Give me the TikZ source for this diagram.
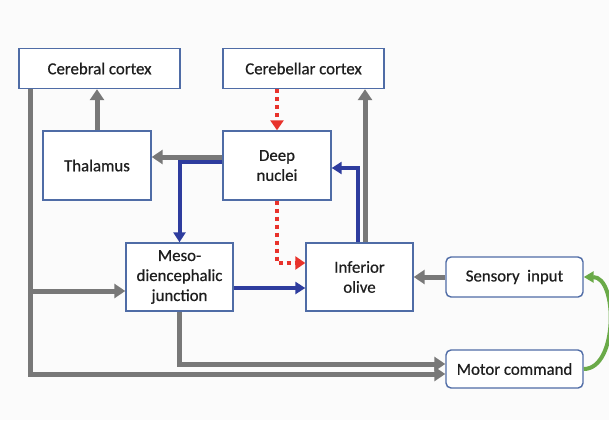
\documentclass[tikz,border=0pt]{standalone}
\usepackage{fontspec}
\setmainfont{Carlito}
\newfontfamily\boxfont{Carlito}[FakeBold=0.6]
\usetikzlibrary{arrows.meta}
\definecolor{boxline}{HTML}{4F6CA6}
\definecolor{greyarrow}{HTML}{787878}
\definecolor{bluearrow}{HTML}{2E3C9E}
\definecolor{redarrow}{HTML}{E8322B}
\definecolor{greenarrow}{HTML}{6AAA48}
\definecolor{paper}{HTML}{FBFBFB}
\definecolor{ink}{HTML}{1E1E1E}
\tikzset{
  block/.style={draw=boxline, line width=1.4pt, fill=white, inner sep=0pt,
    align=center, text=ink, font=\boxfont\fontsize{16.8}{20}\selectfont},
  roundblock/.style={block, rounded corners=5pt},
  greyconn/.style={draw=greyarrow, line width=5pt,
    -{Triangle[length=11pt,width=14pt]}},
  blueconn/.style={draw=bluearrow, line width=4pt,
    -{Triangle[length=10pt,width=12pt]}},
  redconn/.style={draw=redarrow, line width=4pt, dash pattern=on 4pt off 4pt,
    -{Triangle[length=10pt,width=13pt]}},
  greenconn/.style={draw=greenarrow, line width=4pt,
    -{Triangle[length=10pt,width=11pt]}},
}
\begin{document}
\begin{tikzpicture}[x=1pt,y=-1pt]
\useasboundingbox[fill=paper] (0,0) rectangle (609,420);

% boxes
\node[block, minimum width=161pt, minimum height=40pt] (cc)  at (99.5,68.5) {Cerebral cortex};
\node[block, minimum width=161pt, minimum height=40pt] (cbc) at (303.5,68.5) {Cerebellar cortex};
\node[block, minimum width=108pt, minimum height=69pt] (th)  at (97,165.5) {Thalamus};
\node[block, minimum width=108pt, minimum height=69pt] (dn)  at (277,165.5) {Deep\\nuclei};
\node[block, minimum width=107pt, minimum height=68pt] (mdj) at (179.5,277) {Meso-\\diencephalic\\junction};
\node[block, minimum width=107pt, minimum height=68pt] (io)  at (359.5,277) {Inferior\\olive};
\node[roundblock, minimum width=137pt, minimum height=40pt] (si) at (514.5,277) {Sensory\ \ input};
\node[roundblock, minimum width=137pt, minimum height=38pt] (mc) at (514.5,369) {Motor command};

% branch point on the cortical descending pathway
\coordinate (split) at (30,291);

% grey pathways
\draw[greyconn] (th.north) -- (th.north |- cc.south);
\draw[greyconn] (dn.west |- 0,157) -- (th.east |- 0,157);
\draw[greyconn] (io.north -| 365,0) -- (cbc.south -| 365,0);
\draw[greyconn] (si.west) -- (io.east |- si.west);
\draw[greyconn] (cc.south -| split) |- (mc.west |- 0,374);
\draw[greyconn] (split) -- (mdj.west |- split);
\draw[greyconn] (mdj.south) |- (mc.west |- 0,364);

% blue pathways
\draw[blueconn] (dn.west |- 0,162) -| (mdj.north);
\draw[blueconn] (mdj.east |- 0,288) -- (io.west |- 0,288);
\draw[blueconn] (io.north -| 358,0) |- (dn.east |- 0,168);

% red dotted pathways
\draw[redconn] (dn.north |- cbc.south) -- (dn.north);
\draw[redconn] (dn.south) |- (io.west |- 0,263);

% sensory feedback loop
\draw[greenconn] (mc.east) .. controls (618,369) and (618,277) .. (si.east);
\end{tikzpicture}
\end{document}
